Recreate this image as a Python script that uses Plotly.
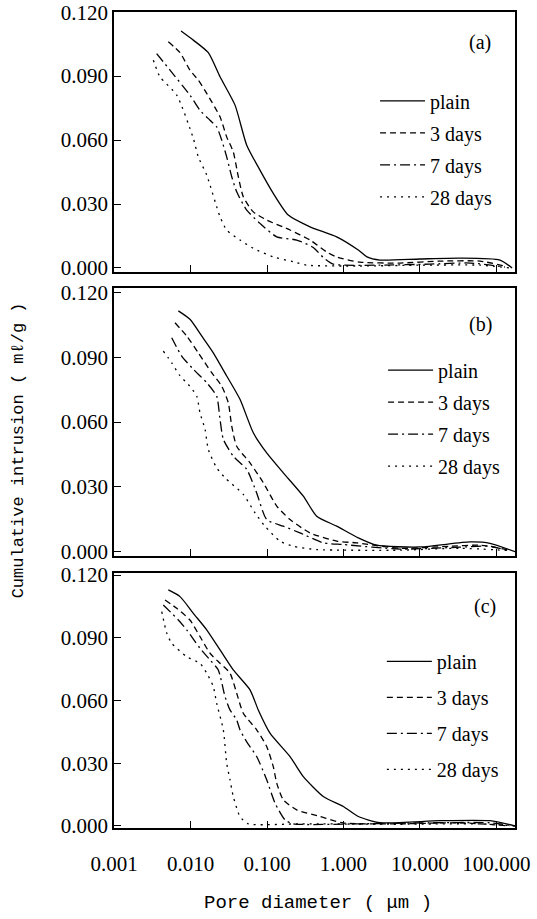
import plotly.graph_objects as go

# ---------------- data (pore diameter in µm, cumulative intrusion in mL/g) ----------------
SERIES = ["plain", "3 days", "7 days", "28 days"]

# panel (a)
a_plain_d = [0.00752, 0.01089, 0.01710, 0.02432, 0.03819, 0.05433, 0.08091, 0.1208, 0.1897, 0.3648, 0.8143, 1.561, 2.028, 3.000, 10.0, 33.3, 111, 160]
a_plain_v = [0.1112, 0.1069, 0.1010, 0.0897, 0.0764, 0.0576, 0.0459, 0.0350, 0.0248, 0.0193, 0.0146, 0.0084, 0.0052, 0.0037, 0.0042, 0.0046, 0.0037, 0.0000]
a_3d_d = [0.00513, 0.00730, 0.00984, 0.01265, 0.01629, 0.02432, 0.02972, 0.03622, 0.04217, 0.04898, 0.06622, 0.09908, 0.2000, 0.3648, 0.6026, 0.8143, 1.643, 5.48, 18.2, 60.8, 129]
a_3d_v = [0.1061, 0.1010, 0.0928, 0.0881, 0.0819, 0.0709, 0.0615, 0.0545, 0.0428, 0.0334, 0.0263, 0.0225, 0.0178, 0.0131, 0.0075, 0.0051, 0.0027, 0.0023, 0.0032, 0.0032, 0.0009]
a_7d_d = [0.00361, 0.00540, 0.00984, 0.01330, 0.01799, 0.02198, 0.02559, 0.02972, 0.03459, 0.04018, 0.05433, 0.08091, 0.1340, 0.2443, 0.4027, 0.5445, 0.7362, 3.000, 13.5, 45.1, 129]
a_7d_v = [0.1006, 0.0928, 0.0811, 0.0740, 0.0693, 0.0662, 0.0600, 0.0521, 0.0428, 0.0357, 0.0271, 0.0209, 0.0146, 0.0131, 0.0096, 0.0049, 0.0018, 0.0013, 0.0018, 0.0023, 0.0004]
a_28d_d = [0.00327, 0.00399, 0.00661, 0.01089, 0.01265, 0.01629, 0.02432, 0.02972, 0.04436, 0.06622, 0.1208, 0.2208, 0.3304, 1.643, 10.0, 60.8, 150]
a_28d_v = [0.0975, 0.0897, 0.0811, 0.0608, 0.0521, 0.0436, 0.0240, 0.0178, 0.0131, 0.0092, 0.0052, 0.0029, 0.0013, 0.0009, 0.0013, 0.0013, 0.0000]

# panel (b)
b_plain_d = [0.00694, 0.00984, 0.01400, 0.01986, 0.02972, 0.04436, 0.06622, 0.09908, 0.1633, 0.2985, 0.4467, 0.8143, 1.561, 2.716, 10.0, 45.1, 82.2, 175]
b_plain_v = [0.1114, 0.1075, 0.0998, 0.0920, 0.0813, 0.0705, 0.0550, 0.0457, 0.0365, 0.0257, 0.0164, 0.0118, 0.0064, 0.0030, 0.0022, 0.0045, 0.0039, 0.0000]
b_3d_d = [0.00627, 0.00891, 0.01265, 0.01892, 0.02559, 0.03119, 0.03459, 0.04018, 0.05998, 0.08954, 0.1340, 0.2000, 0.3648, 0.8143, 1.489, 5.48, 24.7, 60.8, 150]
b_3d_v = [0.1059, 0.0998, 0.0920, 0.0828, 0.0766, 0.0689, 0.0581, 0.0488, 0.0411, 0.0319, 0.0211, 0.0149, 0.0087, 0.0049, 0.0041, 0.0016, 0.0025, 0.0030, 0.0007]
b_7d_d = [0.00568, 0.00767, 0.01089, 0.01629, 0.02198, 0.02432, 0.02685, 0.03622, 0.05433, 0.07328, 0.09908, 0.1633, 0.2698, 0.5445, 0.993, 5.48, 33.3, 82.2, 150]
b_7d_v = [0.0990, 0.0905, 0.0844, 0.0782, 0.0720, 0.0612, 0.0520, 0.0442, 0.0381, 0.0272, 0.0149, 0.0118, 0.0087, 0.0041, 0.0033, 0.0012, 0.0021, 0.0025, 0.0002]
b_28d_d = [0.00441, 0.00568, 0.00730, 0.00935, 0.01205, 0.01330, 0.01549, 0.01710, 0.02198, 0.02825, 0.04898, 0.06966, 0.09419, 0.1479, 0.2208, 0.4467, 5.48, 33.3, 150]
b_28d_v = [0.0928, 0.0874, 0.0813, 0.0774, 0.0720, 0.0643, 0.0566, 0.0473, 0.0388, 0.0342, 0.0265, 0.0180, 0.0118, 0.0049, 0.0025, 0.0010, 0.0007, 0.0016, 0.0005]

# panel (c)
c_plain_d = [0.00513, 0.00730, 0.01089, 0.01629, 0.02432, 0.03622, 0.05998, 0.07691, 0.1094, 0.2000, 0.2985, 0.5445, 0.993, 1.561, 3.000, 18.2, 82.2, 175]
c_plain_v = [0.1129, 0.1097, 0.1017, 0.0938, 0.0842, 0.0746, 0.0651, 0.0555, 0.0444, 0.0332, 0.0236, 0.0141, 0.0093, 0.0045, 0.0015, 0.0025, 0.0025, 0.0000]
c_3d_d = [0.00465, 0.00661, 0.00984, 0.01330, 0.01799, 0.02432, 0.03281, 0.04018, 0.04898, 0.07328, 0.09908, 0.1208, 0.1340, 0.1633, 0.2443, 0.4932, 0.993, 5.48, 33.3, 150]
c_3d_v = [0.1081, 0.1041, 0.0985, 0.0906, 0.0826, 0.0778, 0.0731, 0.0635, 0.0539, 0.0460, 0.0380, 0.0284, 0.0205, 0.0125, 0.0077, 0.0045, 0.0014, 0.0010, 0.0015, 0.0000]
c_7d_d = [0.00441, 0.00694, 0.00891, 0.01330, 0.01799, 0.02307, 0.02825, 0.03281, 0.04018, 0.04436, 0.05433, 0.07328, 0.09908, 0.1274, 0.1718, 0.2208, 1.643, 13.5, 82.2, 175]
c_7d_v = [0.1057, 0.0985, 0.0938, 0.0850, 0.0794, 0.0746, 0.0619, 0.0555, 0.0507, 0.0460, 0.0402, 0.0332, 0.0221, 0.0109, 0.0029, 0.0010, 0.0010, 0.0015, 0.0015, 0.0000]
c_28d_d = [0.00421, 0.00489, 0.00568, 0.00891, 0.01330, 0.01629, 0.01986, 0.02198, 0.02685, 0.02972, 0.03281, 0.03622, 0.04436, 0.05702, 0.2698, 5.48, 60.8, 175]
c_28d_v = [0.1025, 0.0923, 0.0874, 0.0810, 0.0778, 0.0731, 0.0667, 0.0587, 0.0460, 0.0300, 0.0221, 0.0141, 0.0045, 0.0010, 0.0010, 0.0008, 0.0010, 0.0000]

x_tick_vals = [0.001, 0.01, 0.1, 1, 10, 100]
x_tick_text = ["0.001", "0.010", "0.100", "1.000", "10.000", "100.000"]
y_tick_vals = [0.0, 0.03, 0.06, 0.09, 0.12]
y_tick_text = ["0.000", "0.030", "0.060", "0.090", "0.120"]
panel_labels = ["(a)", "(b)", "(c)"]

# ---------------- figure ----------------
panels = [
    [(a_plain_d, a_plain_v), (a_3d_d, a_3d_v), (a_7d_d, a_7d_v), (a_28d_d, a_28d_v)],
    [(b_plain_d, b_plain_v), (b_3d_d, b_3d_v), (b_7d_d, b_7d_v), (b_28d_d, b_28d_v)],
    [(c_plain_d, c_plain_v), (c_3d_d, c_3d_v), (c_7d_d, c_7d_v), (c_28d_d, c_28d_v)],
]
DASH = ["solid", "6px,4px", "10px,4px,2px,4px", "2px,5px"]
axis_ids = ["", "2", "3"]
legend_ids = ["legend", "legend2", "legend3"]

SERIF = "Liberation Serif"
MONO = "Liberation Mono"

fig = go.Figure()
for p, series in enumerate(panels):
    for s, (d, v) in enumerate(series):
        fig.add_trace(go.Scatter(
            x=d, y=v, mode="lines", name=SERIES[s],
            xaxis="x" + axis_ids[p], yaxis="y" + axis_ids[p],
            legend=legend_ids[p], legendgroup=f"p{p}s{s}",
            line=dict(color="black", width=1.3, dash=DASH[s], shape="spline", smoothing=0.6),
            showlegend=True,
        ))

y_domains = [[0.6814, 1.0], [0.3333, 0.6618], [0.0, 0.3125]]
y_ranges = [[-0.0019, 0.1201], [-0.002, 0.122], [-0.001, 0.121]]

common_x = dict(type="log", range=[-3, 2.242], showline=True, mirror=True, linecolor="black",
                linewidth=1.5, ticks="inside", ticklen=7, tickwidth=1.3, tickcolor="black",
                showgrid=False, zeroline=False, tickvals=x_tick_vals, ticktext=x_tick_text,
                automargin=False, ticklabeloverflow="allow",
                tickfont=dict(family=SERIF, size=21, color="black"))
common_y = dict(showline=True, mirror=True, linecolor="black", linewidth=1.5, ticks="inside",
                ticklen=7, tickwidth=1.3, tickcolor="black", showgrid=False, zeroline=False,
                tickvals=y_tick_vals, ticktext=y_tick_text, automargin=False,
                ticklabeloverflow="allow",
                tickfont=dict(family=SERIF, size=21, color="black"))

layout = dict(
    width=537, height=919,
    margin=dict(l=114, r=22, t=12, b=91, autoexpand=False),
    paper_bgcolor="white", plot_bgcolor="white",
    font=dict(family=SERIF, color="black"),
)
for p in range(3):
    xa = dict(common_x, anchor="y" + axis_ids[p], domain=[0, 1],
              showticklabels=(p == 2))
    if p == 2:
        xa["ticklabelstandoff"] = 16
    ya = dict(common_y, anchor="x" + axis_ids[p], domain=y_domains[p], range=y_ranges[p])
    layout["xaxis" + axis_ids[p]] = xa
    layout["yaxis" + axis_ids[p]] = ya

legend_pos = [(0.651, 0.915), (0.671, 0.585), (0.668, 0.228)]
legend_gap = [3, 3, 7]
for p in range(3):
    layout[legend_ids[p]] = dict(
        x=legend_pos[p][0], y=legend_pos[p][1], xanchor="left", yanchor="top",
        bgcolor="rgba(0,0,0,0)", borderwidth=0, traceorder="grouped", itemwidth=45,
        tracegroupgap=legend_gap[p], font=dict(family=SERIF, size=20, color="black"),
    )

annotations = []
label_pos = [(0.913, 0.881), (0.913, 0.862), (0.925, 0.867)]
for p in range(3):
    annotations.append(dict(
        text=panel_labels[p], xref="x" + axis_ids[p] + " domain", yref="y" + axis_ids[p] + " domain",
        x=label_pos[p][0], y=label_pos[p][1], showarrow=False,
        font=dict(family=SERIF, size=20, color="black"), xanchor="center", yanchor="middle"))
annotations.append(dict(
    text="Pore diameter ( μm )", xref="paper", yref="paper", x=0.509, y=-0.092,
    showarrow=False, font=dict(family=MONO, size=19, color="black"),
    xanchor="center", yanchor="middle"))
annotations.append(dict(
    text="Cumulative intrusion ( mℓ/g )", xref="paper", yref="paper", x=-0.239, y=0.463,
    showarrow=False, textangle=-90, font=dict(family=MONO, size=17, color="black"),
    xanchor="center", yanchor="middle"))
layout["annotations"] = annotations

fig.update_layout(**layout)
# remove the default page margin so the 537x919 figure fills the window exactly
fig.write_html("out.html", config={"displayModeBar": False},
               post_script="document.body.style.margin='0px';")
